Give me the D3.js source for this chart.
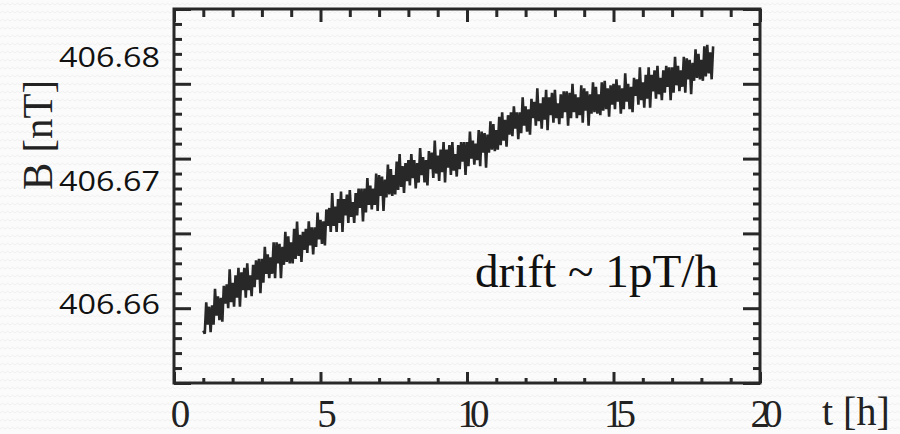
<!DOCTYPE html>
<html>
<head>
<meta charset="utf-8">
<script src="https://cdn.jsdelivr.net/npm/d3@7"></script>
<style>
  html, body { margin: 0; padding: 0; background: #fbfbfb; }
  svg { display: block; }
</style>
</head>
<body>
<svg id="chart" width="900" height="434"></svg>
<script>
// ---- data ----
const tStart = 1.0;        // h, first sample
const tStep = 0.05;        // h, sampling interval
const baseNT = 406.65;     // nT, offset baseline
// field minus 406.65 nT, in pT
const fieldOffsetPT = [
  8.5,8.3,10.4,8.9,10.1,8.4,10.2,8.9,11.3,9.5,
  10.8,9.2,10.7,9.1,11.5,10.3,11.6,10.0,12.6,10.4,
  11.7,10.1,12.2,10.7,12.7,10.1,12.4,11.2,12.7,10.7,
  13.0,11.2,12.2,10.8,12.9,11.4,13.2,11.9,13.3,11.0,
  13.3,11.7,14.1,12.3,13.6,12.0,13.4,12.3,14.4,12.0,
  14.4,13.0,14.3,12.0,14.1,12.9,15.1,13.1,14.8,13.0,
  14.4,13.0,15.3,13.3,15.8,13.5,14.9,13.1,15.1,13.9,
  15.3,13.7,15.8,14.2,15.4,13.6,15.4,14.1,16.4,14.6,
  15.9,14.3,15.8,14.2,16.6,15.5,16.7,15.1,17.7,15.5,
  16.8,15.1,17.3,15.7,17.8,15.1,17.3,16.2,17.6,15.7,
  17.9,16.1,17.1,15.7,17.7,16.2,18.0,16.7,18.0,15.8,
  18.0,16.4,18.7,16.9,18.2,16.6,18.0,16.9,19.0,16.5,
  18.9,17.5,18.8,16.5,18.6,17.4,19.6,17.6,19.3,17.5,
  18.9,17.6,19.8,17.9,20.3,18.1,19.5,17.7,19.7,18.5,
  19.9,18.2,20.3,18.7,19.9,18.0,19.7,18.4,20.7,18.9,
  20.1,18.4,19.9,18.2,20.5,19.3,20.4,18.7,21.2,19.0,
  20.2,18.5,20.6,19.1,21.1,18.4,20.6,19.4,20.9,18.9,
  21.1,19.2,20.3,18.8,20.9,19.3,21.1,19.8,21.1,18.9,
  21.1,19.5,21.8,20.0,21.2,19.6,21.0,19.9,21.9,19.5,
  21.8,20.4,21.7,19.4,21.6,20.4,22.5,20.6,22.3,20.5,
  21.9,20.6,22.8,20.9,23.1,21.2,22.6,20.8,22.9,21.6,
  23.1,21.5,23.5,22.0,23.1,21.3,23.1,21.7,24.1,22.2,
  23.5,21.8,23.3,21.6,24.0,22.7,23.8,22.2,24.7,22.5,
  23.7,22.0,24.1,22.6,24.6,21.9,24.1,22.9,24.4,22.4,
  24.6,22.7,23.7,22.3,24.3,22.7,24.5,23.1,24.5,22.2,
  24.4,22.7,25.0,23.1,24.3,22.7,24.1,22.9,24.9,22.4,
  24.7,23.2,24.5,22.2,24.3,23.0,25.1,23.1,24.8,23.0,
  24.3,22.9,25.1,23.2,25.2,23.3,24.7,22.8,24.9,23.6,
  25.0,23.3,25.3,23.8,24.9,23.0,24.7,23.3,25.7,23.8,
  25.0,23.3,24.8,23.1,25.4,24.2,25.3,23.6,26.1,23.9,
  25.1,23.4,25.6,24.0,26.1,23.4,25.6,24.5,25.9,24.0,
  26.2,24.3,25.4,23.9,25.9,24.4,26.2,24.8,26.1,23.9,
  26.1,24.4,26.8,24.9,26.2,24.5,25.9,24.8,26.8,24.4,
  26.7,25.3,26.6,24.3,26.4,25.2,27.3,25.4,27.0,25.3,
  26.6,25.2,27.5,25.5,27.6,25.7,27.1,25.3,27.5
];
const xMajorTicks = [0, 5, 10, 15, 20];
const xTickLabels = ["0", "5", "10", "15", "20"];
const xMinorTicks = [1,2,3,4,6,7,8,9,11,12,13,14,16,17,18,19];
const yMajorTicks = [406.655, 406.66, 406.665, 406.67, 406.675, 406.68];
const yMinorTicks = [406.656,406.657,406.658,406.659,406.661,406.662,406.663,406.664,
                     406.666,406.667,406.668,406.669,406.671,406.672,406.673,406.674,
                     406.676,406.677,406.678,406.679];
const yTickLabels = ["406.68", "406.67", "406.66"];
const xTitle = "t [h]";
const yTitle = "B [nT]";
const annotation = "drift ~ 1pT/h";

// ---- layout ----
const svg = d3.select("#chart");
const pL = 174, pR = 760, pT = 9, pB = 383;
const ink = "#282828";

// subtle background texture
const defs = svg.append("defs");
const pat = defs.append("pattern").attr("id", "bgpat")
  .attr("width", 10).attr("height", 8).attr("patternUnits", "userSpaceOnUse");
pat.append("rect").attr("width", 10).attr("height", 8).attr("fill", "#fbfbfb");
pat.append("path").attr("d", "M0,5 L2.5,3 L5,5 L7.5,3 L10,5")
  .attr("fill", "none").attr("stroke", "#f0f0f0").attr("stroke-width", 1);
svg.append("rect").attr("width", 900).attr("height", 434).attr("fill", "url(#bgpat)");

const x = d3.scaleLinear().domain([0, 20]).range([pL, pR]);
const y = d3.scaleLinear().domain([406.655, 406.68]).range([pB, pT]);

const data = fieldOffsetPT.map((p, i) => ({ t: tStart + i * tStep, v: baseNT + p / 1000 }));

// data line
const line = d3.line().x(d => x(d.t)).y(d => y(d.v));
svg.append("path").datum(data)
  .attr("d", line)
  .attr("fill", "none")
  .attr("stroke", ink)
  .attr("stroke-width", 2.6)
  .attr("stroke-linejoin", "miter")
  .attr("stroke-miterlimit", 2.5);

// axes with inward ticks
function styleAxis(g) {
  g.selectAll(".domain").remove();
  g.selectAll(".tick text").remove();
  g.selectAll(".tick line").attr("stroke", ink).attr("stroke-width", 3);
}
svg.append("g").attr("transform", `translate(0,${pB})`)
  .call(d3.axisBottom(x).tickValues(xMajorTicks).tickSize(-11)).call(styleAxis);
svg.append("g").attr("transform", `translate(0,${pB})`)
  .call(d3.axisBottom(x).tickValues(xMinorTicks).tickSize(-5)).call(styleAxis);
svg.append("g").attr("transform", `translate(0,${pT})`)
  .call(d3.axisTop(x).tickValues(xMajorTicks).tickSize(-13)).call(styleAxis);
svg.append("g").attr("transform", `translate(0,${pT})`)
  .call(d3.axisTop(x).tickValues(xMinorTicks).tickSize(-8)).call(styleAxis);
svg.append("g").attr("transform", `translate(${pL},0)`)
  .call(d3.axisLeft(y).tickValues(yMajorTicks).tickSize(-17)).call(styleAxis);
svg.append("g").attr("transform", `translate(${pL},0)`)
  .call(d3.axisLeft(y).tickValues(yMinorTicks).tickSize(-8)).call(styleAxis);
svg.append("g").attr("transform", `translate(${pR},0)`)
  .call(d3.axisRight(y).tickValues(yMajorTicks).tickSize(-17)).call(styleAxis);
svg.append("g").attr("transform", `translate(${pR},0)`)
  .call(d3.axisRight(y).tickValues(yMinorTicks).tickSize(-7)).call(styleAxis);

// frame
svg.append("rect")
  .attr("x", pL).attr("y", pT)
  .attr("width", pR - pL).attr("height", pB - pT)
  .attr("fill", "none").attr("stroke", ink).attr("stroke-width", 3);

// x tick labels (serif, tight)
svg.append("g").selectAll("text").data(xMajorTicks).join("text")
  .attr("x", d => x(d) + 3)
  .attr("y", 427)
  .attr("text-anchor", "middle")
  .attr("font-family", "'Liberation Serif', 'Times New Roman', serif")
  .attr("font-size", 39)
  .attr("letter-spacing", -7)
  .attr("fill", "#222")
  .text((d, i) => xTickLabels[i]);

// y tick labels (as placed on the slide)
const labelPos = d3.scalePoint().domain(yTickLabels).range([57, 304]);
svg.append("g").selectAll("text").data(yTickLabels).join("text")
  .attr("x", 160)
  .attr("y", d => labelPos(d))
  .attr("dy", "0.36em")
  .attr("text-anchor", "end")
  .attr("font-family", "'Open Sans', 'Noto Sans', sans-serif")
  .attr("font-size", 28)
  .attr("textLength", 101)
  .attr("lengthAdjust", "spacingAndGlyphs")
  .attr("fill", "#111")
  .text(d => d);

// axis titles
svg.append("text")
  .attr("x", 822).attr("y", 425)
  .attr("font-family", "'Liberation Serif', 'Times New Roman', serif")
  .attr("font-size", 40)
  .attr("fill", "#222")
  .text(xTitle);

svg.append("text")
  .attr("transform", "translate(52,135) rotate(-90)")
  .attr("text-anchor", "middle")
  .attr("font-family", "'Liberation Serif', 'Times New Roman', serif")
  .attr("font-size", 42)
  .attr("textLength", 110)
  .attr("lengthAdjust", "spacingAndGlyphs")
  .attr("fill", "#222")
  .text(yTitle);

// annotation
svg.append("text")
  .attr("x", 475).attr("y", 287)
  .attr("font-family", "'Liberation Serif', 'Times New Roman', serif")
  .attr("font-size", 46)
  .attr("textLength", 243)
  .attr("lengthAdjust", "spacingAndGlyphs")
  .attr("fill", "#111")
  .text(annotation);
</script>
</body>
</html>
